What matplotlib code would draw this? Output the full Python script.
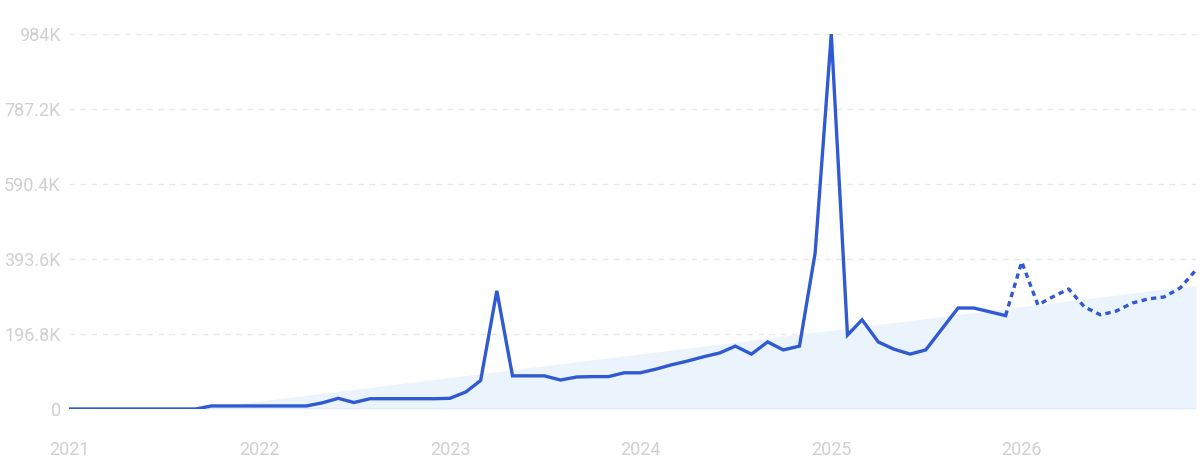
import numpy as np
import pandas as pd
import matplotlib
matplotlib.use("Agg")
import matplotlib.pyplot as plt

# monthly values in thousands, Jan 2021 .. Dec 2025 (measured)
actual = [0, 0, 0, 0, 0, 0, 0, 0, 0, 8, 8, 8,
          8, 8, 8, 8, 16, 28, 17, 27, 27, 27, 27, 27,
          28, 45, 75, 310, 87, 87, 87, 76, 84, 85, 85, 95,
          95, 105, 116, 126, 137, 147, 165, 144, 176, 155, 165, 409,
          984, 194, 234, 176, 157, 144, 155, 210, 265, 265, 255, 245]
# forecast Jan 2026 .. Dec 2026
forecast = [386, 273, 294, 315, 268, 247, 257, 278, 289, 294, 318, 365]

# trend band (start and end)
trend_dates = ["2021-09-01", "2026-12-01"]
trend_vals = [0, 325]

yticks = [0, 196.8, 393.6, 590.4, 787.2, 984]
ylabels = ["0", "196.8K", "393.6K", "590.4K", "787.2K", "984K"]
years = ["2021", "2022", "2023", "2024", "2025", "2026"]

months = pd.date_range("2021-01-01", periods=len(actual) + len(forecast), freq="MS")
act_x = months[:len(actual)]
fc_x = months[len(actual) - 1:]
fc_y = [actual[-1]] + forecast

line_col = "#2f5ad1"
txt_col = "#d0d0d0"

fig = plt.figure(figsize=(12, 4.71), dpi=100)
ax = fig.add_axes([69 / 1200, 1 - 409 / 471, (1196 - 69) / 1200, (409 - 34) / 471])

ax.fill_between(pd.to_datetime(trend_dates), [0, 0], trend_vals,
                color="#ebf3fd", lw=0, zorder=1)
ax.plot(act_x, actual, color=line_col, lw=2.4, solid_joinstyle="miter", zorder=3)
ax.plot(fc_x, fc_y, color=line_col, lw=2.4, linestyle=(0, (1.6, 1.3)), zorder=3)

ax.set_xlim(months[0], months[-1])
ax.set_ylim(0, 984)

for v in yticks[1:]:
    ax.axhline(v, color="#e8e8e8", lw=1, linestyle=(0, (4, 4)), zorder=0)
ax.axhline(0, color="#e2e9f6", lw=1.2, zorder=2)

ax.set_yticks(yticks)
ax.set_yticklabels(ylabels)
ax.set_xticks(pd.to_datetime([y + "-01-01" for y in years]))
ax.set_xticklabels(years)
ax.tick_params(axis="both", length=0, colors=txt_col, labelsize=13)
ax.tick_params(axis="y", pad=6)
ax.tick_params(axis="x", pad=23)
for lab in ax.get_xticklabels() + ax.get_yticklabels():
    lab.set_family("Roboto")

for s in ax.spines.values():
    s.set_visible(False)

fig.savefig("out.png", dpi=100)
